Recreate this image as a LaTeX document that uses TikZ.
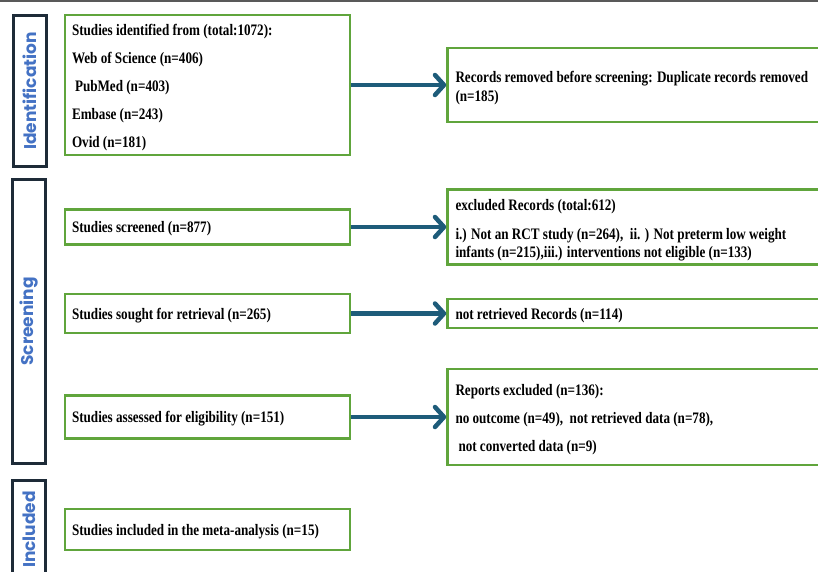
\documentclass[tikz,border=0pt]{standalone}
\usepackage{fontspec}
\setmainfont{Liberation Serif}[FakeStretch=0.82]
\newfontfamily\stagefont{Poppins}
\usepackage{tikz}
\usetikzlibrary{positioning}
\usetikzlibrary{arrows.meta}
\definecolor{boxgreen}{RGB}{96,165,60}
\definecolor{stagenavy}{RGB}{30,43,56}
\definecolor{stageblue}{RGB}{68,114,196}
\definecolor{flowblue}{RGB}{30,92,122}
\tikzset{recbox/.style={rectangle,draw=boxgreen,line width=2.5pt,fill=white,
inner xsep=7pt, align=flush left, font=\fontsize{16}{18.5}\selectfont\bfseries},
oneline/.style={text depth=-2pt},
leftbox/.style={recbox,oneline,minimum width=285pt,text width=271pt},
rightbox/.style={recbox,minimum width=386pt,text width=370pt,inner xsep=8pt},
stage/.style={rectangle,draw=stagenavy,line width=3pt,fill=white,rotate=90,
minimum height=33pt, text=stageblue, font=\stagefont\fontsize{17}{19}\selectfont\bfseries},
flow/.style={draw=flowblue,line width=4.5pt,-{Straight Barb[length=9pt,width=20pt,round]}}}
\begin{document}
\begin{tikzpicture}[x=1pt,y=-1pt]
  \useasboundingbox (0,0) rectangle (818,571);
  \clip (0,0) rectangle (818,571);
  \draw [gray!70!black,line width=2pt] (0,0.8) -- (818,0.8);

  % stages
  \node (identbar) [stage,minimum width=151pt] at (30,91) {Identification};
  \node (screenbar) [stage,minimum width=284pt] at (29,321.5) {Screening};
  \node (inclbar) [stage,minimum width=98pt] at (29,529.5) {Included};

  % left column
  \node (ident) [recbox,minimum width=285pt,text width=271pt,minimum height=140pt] at (207.5,85)
    {\rule{0pt}{16pt}Studies identified from (total:1072):\\[9.5pt]
     Web of Science (n=406)\\[9.5pt]
     \hspace*{3pt}PubMed (n=403)\\[9.5pt]
     Embase (n=243)\\[9.5pt]
     Ovid (n=181)};
  \node (screened) [leftbox,minimum height=35pt,below=52pt of ident]
    {Studies screened (n=877)};
  \node (sought) [leftbox,minimum height=39pt,below=47pt of screened]
    {Studies sought for retrieval (n=265)};
  \node (assessed) [leftbox,minimum height=43pt,below=60pt of sought]
    {Studies assessed for eligibility (n=151)};
  \node (included) [leftbox,minimum height=41pt,below=68pt of assessed]
    {Studies included in the meta-analysis (n=15)};

  % right column
  \node (removed) [rightbox,minimum height=74pt,right=95pt of ident]
    {\rule{0pt}{17pt}Records removed before screening: Duplicate records removed\\
     (n=185)};
  \node (excluded) [rightbox,minimum height=73pt,right=95pt of screened]
    {\rule{0pt}{18pt}excluded Records (total:612)\\[10pt]
     i.) Not an RCT study (n=264),\ \ ii. ) Not preterm low weight\\
     infants (n=215),iii.) interventions not eligible (n=133)};
  \node (notretr) [rightbox,oneline,minimum height=29pt,right=95pt of sought]
    {not retrieved Records (n=114)};
  \node (reports) [rightbox,minimum height=96pt,right=95pt of assessed]
    {\rule{0pt}{16pt}Reports excluded (n=136):\\[9.5pt]
     no outcome (n=49),\ \ not retrieved data (n=78),\\[9.5pt]
     \hspace*{3pt}not converted data (n=9)};

  \draw [flow] (ident) -- (removed);
  \draw [flow] (screened) -- (excluded);
  \draw [flow] (sought) -- (notretr);
  \draw [flow] (assessed) -- (reports);
\end{tikzpicture}
\end{document}
